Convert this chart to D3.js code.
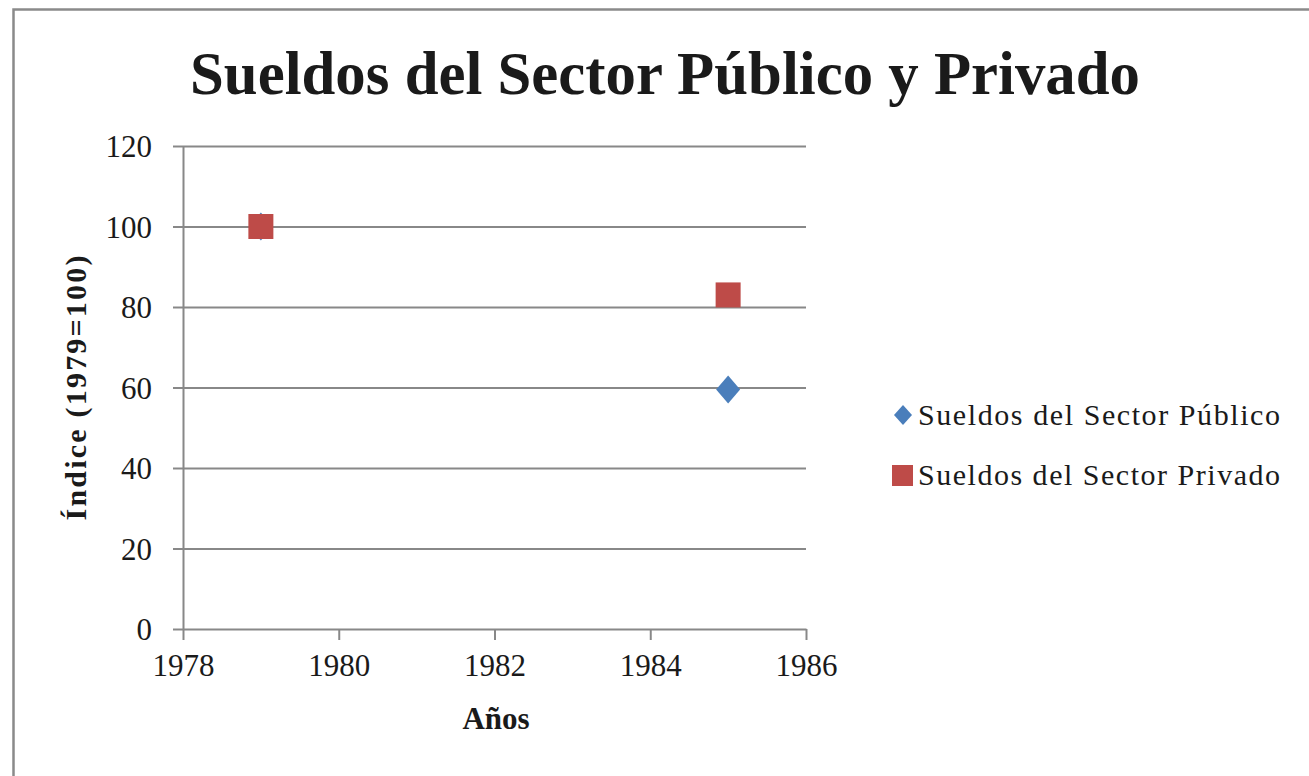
<!DOCTYPE html>
<html>
<head>
<meta charset="utf-8">
<script src="https://cdn.jsdelivr.net/npm/d3@7"></script>
<style>
  body { margin: 0; background: #fff; }
  svg text { font-family: "Liberation Serif", "Times New Roman", serif; fill: #1a1a1a; }
</style>
</head>
<body>
<div id="chart"></div>
<script>
var svgwidth = 1309;
var svgheight = 776;

// data
var years = [1979, 1985];
var publico = [100, 59.5];
var privado = [100, 83];
var seriesNames = ["Sueldos del Sector Público", "Sueldos del Sector Privado"];
var xTicks = [1978, 1980, 1982, 1984, 1986];
var yTicks = [0, 20, 40, 60, 80, 100, 120];

var plot = { left: 183, right: 806, top: 146, bottom: 629 };

var svg = d3.select("#chart")
    .append("svg")
    .attr("width", svgwidth)
    .attr("height", svgheight);

svg.append("rect")
    .attr("width", svgwidth).attr("height", svgheight)
    .attr("fill", "#fff");

// chart border (right and bottom edges fall outside the picture)
svg.append("rect")
    .attr("x", 13.5).attr("y", 9.5)
    .attr("width", svgwidth).attr("height", svgheight)
    .attr("fill", "none")
    .attr("stroke", "#8a8a8a")
    .attr("stroke-width", 2.5);

var x = d3.scaleLinear().domain([1978, 1986]).range([plot.left, plot.right]);
var y = d3.scaleLinear().domain([0, 120]).range([plot.bottom, plot.top]);

// gridlines
svg.append("g")
    .attr("class", "grid")
    .attr("transform", `translate(${plot.left},0)`)
    .call(d3.axisLeft(y).tickValues(yTicks.filter(d => d > 0))
        .tickSizeInner(-(plot.right - plot.left)).tickSizeOuter(0).tickFormat(""))
    .call(g => g.select(".domain").remove())
    .selectAll("line").attr("stroke", "#888").attr("stroke-width", 2);

// y axis
var yaxis = svg.append("g")
    .attr("transform", `translate(${plot.left},0)`)
    .call(d3.axisLeft(y).tickValues(yTicks).tickSizeInner(10).tickSizeOuter(0).tickPadding(21));
yaxis.select(".domain").attr("stroke", "#888").attr("stroke-width", 2);
yaxis.selectAll("line").attr("stroke", "#888").attr("stroke-width", 2);
yaxis.selectAll("text")
    .style("font-family", "'Liberation Serif', serif")
    .style("font-size", "31px")
    .attr("fill", "#1a1a1a")
    .attr("dy", "0.34em");

// x axis
var xaxis = svg.append("g")
    .attr("transform", `translate(0,${plot.bottom})`)
    .call(d3.axisBottom(x).tickValues(xTicks).tickFormat(d3.format("d"))
        .tickSizeInner(11).tickSizeOuter(0).tickPadding(14));
xaxis.select(".domain").attr("stroke", "#888").attr("stroke-width", 2);
xaxis.selectAll("line").attr("stroke", "#888").attr("stroke-width", 2);
xaxis.selectAll("text")
    .style("font-family", "'Liberation Serif', serif")
    .style("font-size", "31px")
    .attr("fill", "#1a1a1a")
    .attr("dy", "0.72em");

// points
var diamond = function(cx, cy, w, h) {
    return `M${cx},${cy - h} L${cx + w},${cy} L${cx},${cy + h} L${cx - w},${cy} Z`;
};

svg.append("g").selectAll("path")
    .data(years.map((d, i) => ({ year: d, value: publico[i] })))
    .enter().append("path")
    .attr("d", d => diamond(x(d.year), y(d.value), 12, 14))
    .attr("fill", "#4a7ebb");

svg.append("g").selectAll("rect")
    .data(years.map((d, i) => ({ year: d, value: privado[i] })))
    .enter().append("rect")
    .attr("x", d => x(d.year) - 12.5)
    .attr("y", d => y(d.value) - 12.5)
    .attr("width", 25).attr("height", 25)
    .attr("fill", "#be4b48");

// title
svg.append("text")
    .attr("x", 665).attr("y", 94)
    .attr("text-anchor", "middle")
    .attr("textLength", 950)
    .attr("lengthAdjust", "spacingAndGlyphs")
    .style("font-size", "62px")
    .style("font-weight", "bold")
    .attr("fill", "#000")
    .text("Sueldos del Sector Público y Privado");

// axis titles
svg.append("text")
    .attr("x", 496).attr("y", 729)
    .attr("text-anchor", "middle")
    .style("font-size", "31px")
    .style("font-weight", "bold")
    .text("Años");

svg.append("text")
    .attr("transform", "translate(86,388) rotate(-90)")
    .attr("text-anchor", "middle")
    .attr("textLength", 265)
    .attr("lengthAdjust", "spacing")
    .style("font-size", "30px")
    .style("font-weight", "bold")
    .text("Índice  (1979=100)");

// legend
var legend = svg.append("g");
legend.append("path")
    .attr("d", diamond(903, 415, 9, 10))
    .attr("fill", "#4a7ebb");
legend.append("rect")
    .attr("x", 892).attr("y", 465).attr("width", 21).attr("height", 21)
    .attr("fill", "#be4b48");

legend.selectAll("text.leg")
    .data(seriesNames)
    .enter().append("text")
    .attr("class", "leg")
    .attr("x", 918)
    .attr("y", (d, i) => 425 + i * 60)
    .attr("textLength", 362)
    .attr("lengthAdjust", "spacing")
    .style("font-size", "30px")
    .text(d => d);
</script>
</body>
</html>
